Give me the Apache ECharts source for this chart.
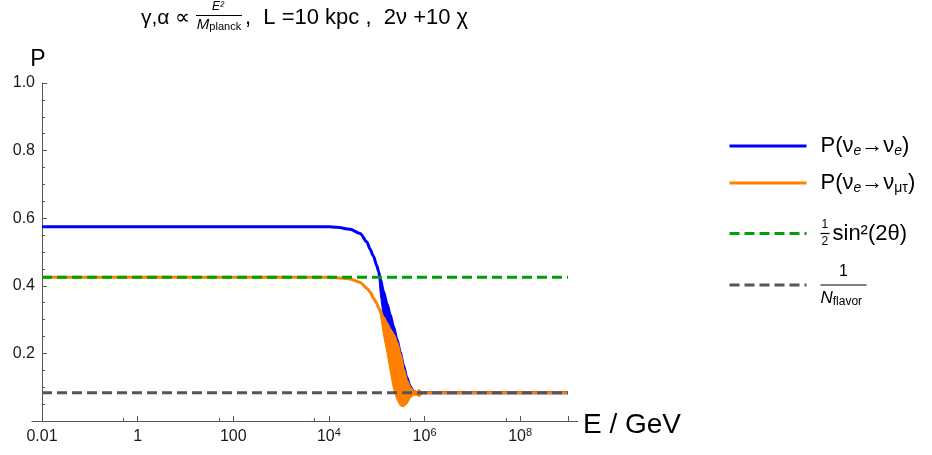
<!DOCTYPE html>
<html><head><meta charset="utf-8">
<script src="https://cdn.jsdelivr.net/npm/echarts@6/dist/echarts.min.js"></script>
<style>html,body{margin:0;padding:0;background:#fff}#c{width:932px;height:455px}</style>
</head><body><div id="c"></div>
<script>
// ---- data ----
const xRange = [0.01, 1e9];
const yRange = [0, 1];
const xTickExps = [-2, 0, 2, 4, 6, 8];
const xTickLabels = ['0.01', '1', '100', '10{sup|4}', '10{sup|6}', '10{sup|8}'];
const yTickValues = [0.2, 0.4, 0.6, 0.8, 1.0];
const yTickLabels = ['0.2', '0.4', '0.6', '0.8', '1.0'];

// P(nu_e -> nu_e), upper edge of curve
const eeE = [0.01, 1e4, 1.46e4, 2.78e4, 4.5e4, 6.21e4, 7.28e4, 8.53e4, 1.0e5, 1.09e5, 1.18e5, 1.38e5, 1.63e5, 1.91e5, 2.23e5, 2.63e5, 3.09e5, 3.62e5, 4.27e5, 5.0e5, 5.86e5, 6.9e5, 1e9];
const eeP = [0.575, 0.575, 0.573, 0.567, 0.555, 0.530, 0.508, 0.488, 0.460, 0.443, 0.422, 0.384, 0.348, 0.315, 0.280, 0.243, 0.205, 0.165, 0.128, 0.102, 0.088, 0.0833, 0.0833];
// oscillation envelope of P(nu_e -> nu_e)
const eeBandE = [1.09e5, 1.18e5, 1.38e5, 1.63e5, 1.91e5, 2.23e5, 2.63e5, 3.09e5, 3.62e5, 4.27e5, 5.0e5, 5.86e5, 6.9e5];
const eeBandHi = [0.443, 0.422, 0.384, 0.348, 0.315, 0.280, 0.243, 0.205, 0.165, 0.128, 0.102, 0.088, 0.0833];
const eeBandLo = [0.440, 0.380, 0.305, 0.282, 0.264, 0.248, 0.224, 0.190, 0.145, 0.112, 0.092, 0.083, 0.0833];

// P(nu_e -> nu_mu,tau)
const emtE = [0.01, 1e4, 1.46e4, 2.78e4, 4.5e4, 6.21e4, 7.28e4, 8.53e4, 1.0e5, 1.09e5, 1.18e5, 1.38e5, 1.63e5, 1.91e5, 2.23e5, 2.63e5, 3.09e5, 3.62e5, 4.27e5, 5.0e5, 5.86e5, 6.9e5, 1e9];
const emtP = [0.425, 0.425, 0.424, 0.420, 0.410, 0.393, 0.382, 0.364, 0.348, 0.336, 0.326, 0.306, 0.288, 0.270, 0.255, 0.232, 0.198, 0.152, 0.118, 0.097, 0.087, 0.0833, 0.0833];
const emtBandE = [1.09e5, 1.18e5, 1.38e5, 1.63e5, 1.91e5, 2.23e5, 2.63e5, 3.09e5, 3.62e5, 4.27e5, 5.0e5, 5.86e5, 6.9e5, 7.7e5, 8.8e5, 9.5e5];
const emtBandHi = [0.336, 0.326, 0.306, 0.288, 0.270, 0.255, 0.232, 0.198, 0.152, 0.118, 0.097, 0.087, 0.086, 0.094, 0.085, 0.0833];
const emtBandLo = [0.336, 0.318, 0.255, 0.203, 0.148, 0.096, 0.064, 0.045, 0.042, 0.050, 0.067, 0.076, 0.076, 0.072, 0.079, 0.0833];

// reference levels
const levelE = [0.01, 1e9];
const halfSin2 = [0.425, 0.425];
const invNflavor = [0.0833, 0.0833];

const names = ['P(νe→νe)', 'P(νe→νμτ)', '½sin²(2θ)', '1/Nflavor'];
const colors = ['#0000ff', '#ff8000', '#00a000', '#555555'];

// ---- chart ----
const F = '"Liberation Sans", Arial, sans-serif';
const axisColor = '#555';
const labelColor = '#1a1a1a';
const DASH = [10, 5];
const pairs = (xs, ys) => xs.map((x, i) => [x, ys[i]]);

function bandSeries(E, hi, lo, color) {
  return {
    type: 'custom', silent: true, clip: true,
    data: [[E[0], hi[0]]],
    renderItem: function (params, api) {
      if (params.dataIndex !== 0) return null;
      const pts = [];
      for (let i = 0; i < E.length; i++) pts.push(api.coord([E[i], hi[i]]));
      for (let i = E.length - 1; i >= 0; i--) pts.push(api.coord([E[i], lo[i]]));
      return { type: 'polygon', shape: { points: pts }, style: { fill: color, stroke: color, lineWidth: 1 } };
    }
  };
}
function lineSeries(name, E, P, color, dashed) {
  return {
    name, type: 'line', data: pairs(E, P), showSymbol: false, symbol: 'none',
    smooth: dashed ? false : 0.25, smoothMonotone: 'x',
    lineStyle: { color, width: 3, type: dashed ? DASH : 'solid', cap: 'butt' },
    itemStyle: { color }
  };
}

const legendText = {};
legendText[names[0]] = '{m|P(ν}{sub|e}{m|→ν}{sub|e}{m|)}';
legendText[names[1]] = '{m|P(ν}{sub|e}{m|→ν}{subr|μτ}{m|)}';
legendText[names[2]] = '{fn|1}\n{fb|}{m3|sin²(2θ)}\n{fn|2}';
legendText[names[3]] = '{n|1}\n{b|}\n{N|N}{fl|flavor}';

const legendRich = {
  m: { fontSize: 22, fontFamily: F, color: '#000', lineHeight: 24 },
  sub: { fontSize: 14, fontFamily: F, fontStyle: 'italic', color: '#000', verticalAlign: 'bottom' },
  subr: { fontSize: 14, fontFamily: F, color: '#000', verticalAlign: 'bottom' },
  fn: { fontSize: 12, fontFamily: F, color: '#000', lineHeight: 13, padding: [0, 0, 0, 1] },
  fb: { width: 9, height: 1.2, backgroundColor: '#000', lineHeight: 4 },
  m3: { fontSize: 22, fontFamily: F, color: '#000', lineHeight: 4, padding: [0, 0, 0, 3] },
  n: { fontSize: 16, fontFamily: F, color: '#000', width: 46, align: 'center', lineHeight: 20 },
  b: { width: 46, height: 1.2, backgroundColor: '#000', lineHeight: 6 },
  N: { fontSize: 17, fontFamily: F, fontStyle: 'italic', color: '#000', lineHeight: 20 },
  fl: { fontSize: 12, fontFamily: F, color: '#000', verticalAlign: 'bottom' }
};
const legendTops = [135, 172, 219, 264];
const legends = names.map((n, i) => ({
  data: [n], left: 728, top: legendTops[i], orient: 'vertical', padding: 0,
  itemWidth: 77, itemHeight: 14, selectedMode: false,
  itemStyle: { opacity: 0 },
  lineStyle: { width: 3, color: colors[i], type: i >= 2 ? DASH : 'solid', cap: 'butt' },
  textStyle: { fontFamily: F, fontSize: 22, color: '#000', padding: [0, 0, 0, 9], rich: legendRich },
  formatter: (name) => legendText[name]
}));

const chart = echarts.init(document.getElementById('c'), null, { renderer: 'canvas' });
chart.setOption({
  animation: false,
  backgroundColor: '#fff',
  grid: { left: 42, right: 364, top: 83, bottom: 34, containLabel: false, outerBoundsMode: 'none' },
  legend: legends,
  xAxis: {
    type: 'log', logBase: 10, min: xRange[0], max: xRange[1], interval: 2,
    name: '{a|E / GeV}', nameLocation: 'end', nameGap: 15,
    nameTextStyle: { fontFamily: F, fontSize: 28, color: '#000',
      rich: { a: { fontFamily: F, fontSize: 28, color: '#000', padding: [9, 0, 0, 0] } } },
    axisLine: { show: false },
    axisTick: { show: true, inside: true, length: 5, lineStyle: { color: axisColor } },
    minorTick: { show: true, splitNumber: 2, length: 3, lineStyle: { color: axisColor } },
    splitLine: { show: false }, minorSplitLine: { show: false },
    axisLabel: {
      fontFamily: F, fontSize: 16, color: labelColor, margin: 6, lineHeight: 20,
      showMaxLabel: true, showMinLabel: true,
      formatter: (v) => {
        const e = Math.round(Math.log10(v));
        const k = xTickExps.indexOf(e);
        return k >= 0 ? xTickLabels[k] : '';
      },
      rich: { sup: { fontSize: 11, fontFamily: F, color: labelColor, verticalAlign: 'top' } }
    }
  },
  yAxis: {
    type: 'value', min: yRange[0], max: yRange[1], interval: 0.2,
    name: 'P', nameLocation: 'end', nameGap: 12,
    nameTextStyle: { fontFamily: F, fontSize: 23, color: '#000', padding: [0, 8, 0, 0] },
    axisLine: { show: true, lineStyle: { color: axisColor, width: 1 } },
    axisTick: { show: true, inside: true, length: 5, lineStyle: { color: axisColor } },
    minorTick: { show: true, splitNumber: 4, length: 3, lineStyle: { color: axisColor } },
    splitLine: { show: false }, minorSplitLine: { show: false },
    axisLabel: {
      fontFamily: F, fontSize: 16, color: labelColor, margin: 7,
      formatter: (v) => {
        const k = yTickValues.findIndex(t => Math.abs(t - v) < 1e-9);
        return k >= 0 ? yTickLabels[k] : '';
      }
    }
  },
  graphic: [
    { type: 'line', silent: true, shape: { x1: 31.5, y1: 421.5, x2: 578, y2: 421.5 }, style: { stroke: axisColor, lineWidth: 1 } },
    { type: 'text', silent: true, x: 141, y: 18, style: { text: 'γ,α ∝', fontFamily: F, fontSize: 21, fill: '#000', align: 'left', verticalAlign: 'middle' } },
    { type: 'text', silent: true, x: 218, y: 7, style: { text: 'E²', fontFamily: F, fontSize: 12, fontStyle: 'italic', fill: '#000', align: 'center', verticalAlign: 'middle' } },
    { type: 'line', silent: true, shape: { x1: 196, y1: 15.5, x2: 242, y2: 15.5 }, style: { stroke: '#000', lineWidth: 1 } },
    { type: 'text', silent: true, x: 219, y: 25, style: { text: '{m|M}{s|planck}', align: 'center', verticalAlign: 'middle', fill: '#000',
        rich: { m: { fontFamily: F, fontSize: 15, fontStyle: 'italic', fill: '#000' }, s: { fontFamily: F, fontSize: 11, fill: '#000', verticalAlign: 'bottom' } } } },
    { type: 'text', silent: true, x: 245, y: 18, style: { text: ',  L =10 kpc ,  2ν +10 χ', fontFamily: F, fontSize: 22, fill: '#000', align: 'left', verticalAlign: 'middle' } }
  ],
  series: [
    lineSeries(names[0], eeE, eeP, colors[0], false),
    bandSeries(eeBandE, eeBandHi, eeBandLo, colors[0]),
    lineSeries(names[1], emtE, emtP, colors[1], false),
    bandSeries(emtBandE, emtBandHi, emtBandLo, colors[1]),
    lineSeries(names[2], levelE, halfSin2, colors[2], true),
    lineSeries(names[3], levelE, invNflavor, colors[3], true)
  ]
});
</script>
</body></html>
